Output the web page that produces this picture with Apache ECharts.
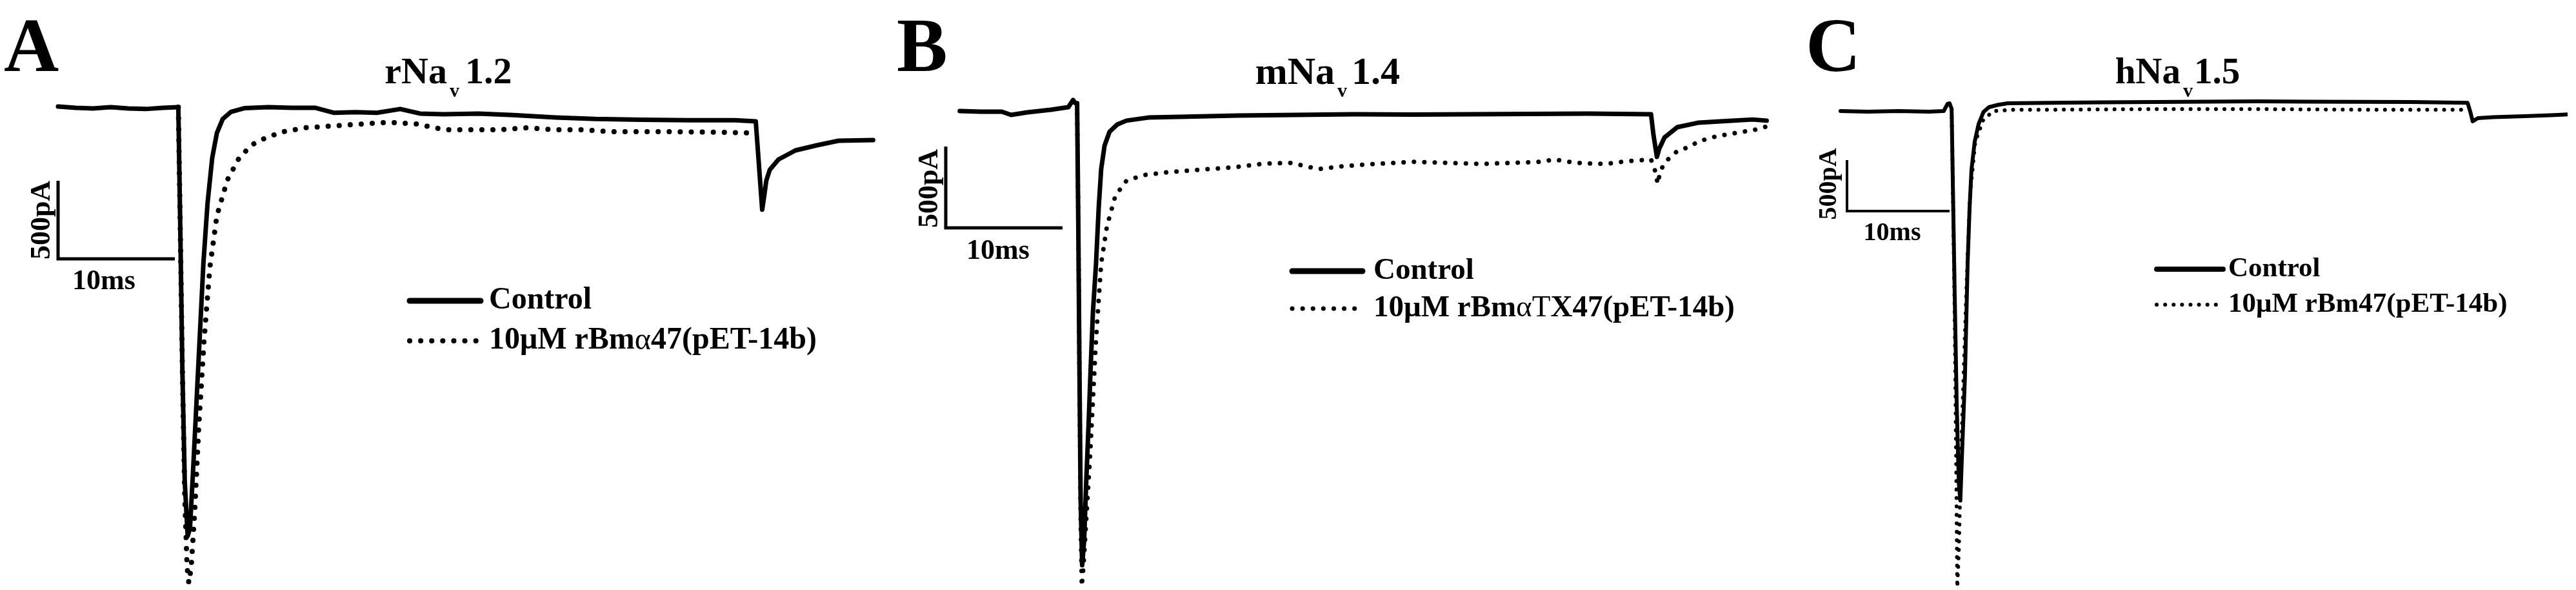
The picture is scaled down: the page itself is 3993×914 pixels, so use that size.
<!DOCTYPE html>
<html>
<head>
<meta charset="utf-8">
<script src="https://cdn.jsdelivr.net/npm/echarts@6/dist/echarts.min.js"></script>
<style>
html,body{margin:0;padding:0;background:#fff;}
#main{width:3993px;height:914px;}
</style>
</head>
<body>
<div id="main"></div>
<script>
// current traces, [time ms, current pA]

// A  rNav1.2
var ctrlA = [
  [0,0],[1.5,-8],[3,-12],[4.5,-4],[6,-12],[7.5,-16],[9,-8],[10.3,-4],
  [10.45,-700],[10.65,-1700],[10.85,-2400],[11.1,-2750],[11.3,-2700],[11.55,-2350],[11.85,-1900],[12.15,-1450],
  [12.45,-1000],[12.8,-620],[13.2,-330],[13.6,-170],[14.1,-80],[14.8,-35],
  [16,-10],[18,-4],[20,-8],[22,-8],[23.6,-40],[25.5,-36],[27.3,-40],[29.3,-16],[31,-45],[33,-50],[36,-45],
  [39,-55],[42.6,-70],[46,-80],[50,-85],[54,-88],[58,-88],[59.75,-95],
  [60.0,-350],[60.3,-660],[60.5,-560],[60.65,-475],[60.95,-405],[61.7,-339],[63.15,-281],[65,-248],[66.85,-219],[69.8,-215]
];
var toxA = [
  [10.3,-4],[10.45,-700],[10.65,-1700],[10.85,-2500],[11.05,-2950],[11.2,-3050],[11.4,-2950],[11.7,-2600],
  [12.05,-2050],[12.5,-1500],[13.0,-1030],[13.6,-700],[14.5,-470],[15.5,-330],[16.6,-245],[17.85,-198],
  [19.3,-161],[21.2,-136],[23.6,-124],[26,-112],[28.3,-101],[30.7,-112],[33.1,-149],[35.5,-149],[37.8,-149],
  [40.2,-136],[42.6,-149],[45,-149],[47.3,-161],[49.7,-161],[52.1,-161],[56.9,-165],[59.7,-170]
];
var barA = [[0,-475],[0,-975],[10,-975]];

// B  mNav1.4
var ctrlB = [
  [1.2,-8],[3,-12],[4.8,-12],[5.6,-32],[7,-16],[9,0],[10.5,16],[10.9,60],[11.1,40],
  [11.25,40],[11.35,-700],[11.45,-1600],[11.55,-2400],[11.68,-2800],[11.85,-2650],[12.05,-2250],[12.25,-1900],
  [12.38,-1640],[12.6,-1250],[12.87,-944],[13.1,-600],[13.31,-365],[13.6,-220],[14.03,-135],[14.7,-90],
  [15.47,-67],[17.35,-48],[20,-44],[25,-36],[30,-32],[35,-28],[40,-30],[45,-28],[50,-26],[55,-24],[60.4,-28],
  [60.6,-150],[60.9,-290],[61.1,-240],[61.55,-171],[62.65,-107],[64.5,-79],[66.35,-71],[69.1,-60],[70.3,-67]
];
var toxB = [
  [11.25,40],[11.35,-700],[11.45,-1600],[11.55,-2500],[11.65,-2930],[11.8,-2800],[12.05,-2500],[12.38,-2100],
  [12.87,-1409],[13.31,-944],[13.81,-714],[14.53,-528],[15.47,-437],[16.9,-402],[18.9,-385],[21.7,-369],
  [24.5,-355],[27.3,-331],[29.6,-327],[31.9,-365],[34,-347],[36.4,-335],[40,-320],[45.9,-333],[50.7,-321],
  [52.15,-306],[53.8,-325],[55.75,-333],[57.1,-329],[58.2,-317],[60.4,-306],
  [60.85,-397],[60.95,-456],[61.2,-380],[61.55,-325],[62.65,-254],[63.6,-230],[64.5,-194],[66,-163],
  [67.65,-143],[69.3,-123],[70.3,-103]
];
var barB = [[0,-226],[0,-726],[10,-726]];

// C  hNav1.5
var ctrlC = [
  [-0.63,0],[2,-6],[5,0],[8,-6],[9.43,0],[9.8,70],[10.0,76],[10.2,20],
  [10.3,-600],[10.5,-1800],[10.7,-2900],[10.9,-3650],[11.05,-3820],[11.2,-3400],[11.5,-2600],[11.76,-1494],
  [11.95,-950],[12.14,-570],[12.45,-300],[12.83,-127],[13.3,-10],[13.84,38],[14.7,60],[15.66,76],
  [20,80],[25,85],[30,88],[35,92],[40,95],[45,92],[50,90],[55,88],[60.5,80],
  [60.8,-20],[61.0,-101],[61.5,-70],[63,-60],[66,-50],[69,-40],[70.6,-32]
];
var toxC = [
  [10.2,20],[10.3,-600],[10.5,-2000],[10.65,-3500],[10.75,-4670],[10.9,-4300],[11.13,-3342],[11.4,-2500],
  [11.64,-1759],[12.0,-810],[12.5,-304],[13.3,-82],[14.3,0],[16.2,13],[20,13],[30,19],[40,19],[50,13],[60.3,13]
];
var barC = [[0,-481],[0,-981],[10,-981]];

var panelLetters = ['A', 'B', 'C'];
var channels = ['rNa', 'mNa', 'hNa'];
var versions = ['1.2', '1.4', '1.5'];
var ctrlName = 'Control';
var toxNames = ['10μM rBmα47(pET-14b)', '10μM rBmαTX47(pET-14b)', '10μM rBm47(pET-14b)'];

var serif = '"Liberation Serif", "Times New Roman", serif';
function f(size, bold) { return (bold ? 'bold ' : '') + size + 'px ' + serif; }

function txt(x, y, text, size, bold, align, extra) {
  var el = {
    type: 'text', x: x, y: y, silent: true,
    style: {
      text: text, font: f(size, bold), fill: '#000',
      textAlign: align || 'left', align: align || 'left',
      textVerticalAlign: 'middle', verticalAlign: 'middle'
    }
  };
  if (extra) for (var k in extra) el[k] = extra[k];
  return el;
}

// legend text with the greek part in normal weight
function legendRich(x, y, name, size) {
  var m = name.match(/^(.*rBm)(αT|α)?(.*)$/);
  var s = '{b|' + m[1] + '}' + (m[2] ? '{n|' + m[2] + '}' : '') + '{b|' + m[3] + '}';
  return {
    type: 'text', x: x, y: y, silent: true,
    style: {
      text: s, fill: '#000', textAlign: 'left', align: 'left',
      textVerticalAlign: 'middle', verticalAlign: 'middle',
      rich: { b: { font: f(size, true) }, n: { font: f(size, false) } }
    }
  };
}

function legendLines(x1, x2, y1, y2, w, dotW, gap) {
  return [
    { type: 'line', silent: true, shape: { x1: x1, y1: y1, x2: x2, y2: y1 },
      style: { stroke: '#000', lineWidth: w, lineCap: 'round' } },
    { type: 'line', silent: true, shape: { x1: x1, y1: y2, x2: x2, y2: y2 },
      style: { stroke: '#000', lineWidth: dotW, lineCap: 'round', lineDash: [0.1, gap] } }
  ];
}

var graphics = [];
// panel A
graphics.push(txt(6, 80, panelLetters[0], 118, true));
graphics.push(txt(693, 114, channels[0], 58, true, 'right'));
graphics.push(txt(697, 142, 'v', 30, true));
graphics.push(txt(721, 114, versions[0], 58, true));
graphics.push(txt(66, 341, '500pA', 44, true, 'center', { rotation: Math.PI / 2 }));
graphics.push(txt(161, 437, '10ms', 44, true, 'center'));
graphics = graphics.concat(legendLines(635, 745, 466, 528, 9, 8, 17));
graphics.push(txt(758, 466, ctrlName, 48, true));
graphics.push(legendRich(758, 528, toxNames[0], 48));
// panel B
graphics.push(txt(1390, 80, panelLetters[1], 118, true));
graphics.push(txt(2069, 114, channels[1], 60, true, 'right'));
graphics.push(txt(2073, 142, 'v', 30, true));
graphics.push(txt(2095, 114, versions[1], 60, true));
graphics.push(txt(1442, 292, '500pA', 44, true, 'center', { rotation: Math.PI / 2 }));
graphics.push(txt(1547, 390, '10ms', 44, true, 'center'));
graphics = graphics.concat(legendLines(2003, 2112, 420, 478, 9, 7, 16));
graphics.push(txt(2129, 420, ctrlName, 47, true));
graphics.push(legendRich(2129, 478, toxNames[1], 47));
// panel C
graphics.push(txt(2799, 80, panelLetters[2], 118, true));
graphics.push(txt(3380, 114, channels[2], 57, true, 'right'));
graphics.push(txt(3384, 142, 'v', 30, true));
graphics.push(txt(3401, 114, versions[2], 57, true));
graphics.push(txt(2836, 285, '500pA', 40, true, 'center', { rotation: Math.PI / 2 }));
graphics.push(txt(2933, 362, '10ms', 40, true, 'center'));
graphics = graphics.concat(legendLines(3343, 3446, 417, 472, 8, 6, 13));
graphics.push(txt(3454, 417, ctrlName, 43, true));
graphics.push(legendRich(3454, 472, toxNames[2], 43));

// grid placement so that 10 ms / 500 pA match the scale bars, kept inside the canvas
var grids = [
  { left: 53.8, top: 19.8, width: 1339.4, height: 871.2, outerBoundsMode: 'none' },
  { left: 1429.8, top: 18.8, width: 1339.4, height: 882, outerBoundsMode: 'none' },
  { left: 2831.2, top: 77.2, width: 1144.8, height: 821.6, outerBoundsMode: 'none' }
];
var xMax = [72, 72, 70];
var yMin = [-3000, -2900, -4600];

var xAxes = [], yAxes = [];
for (var i = 0; i < 3; i++) {
  xAxes.push({ type: 'value', gridIndex: i, min: -2, max: xMax[i], show: false });
  yAxes.push({ type: 'value', gridIndex: i, min: yMin[i], max: 600, show: false });
}

function trace(name, data, idx, width, dots, gap, z) {
  return {
    type: 'line', name: name, data: data, xAxisIndex: idx, yAxisIndex: idx,
    symbol: 'none', showSymbol: false, clip: false, silent: true, z: z,
    lineStyle: dots
      ? { color: '#000', width: width, type: [0.1, gap], cap: 'round', join: 'round' }
      : { color: '#000', width: width, cap: 'round', join: 'round' }
  };
}

function scaleBar(data, idx, width) {
  return {
    type: 'line', name: 'scale', data: data, xAxisIndex: idx, yAxisIndex: idx,
    symbol: 'none', showSymbol: false, clip: false, silent: true, z: 3,
    lineStyle: { color: '#000', width: width, cap: 'butt', join: 'miter' }
  };
}

var series = [
  trace(toxNames[0], toxA, 0, 8, true, 17, 2),
  trace(ctrlName, ctrlA, 0, 7, false, 0, 3),
  scaleBar(barA, 0, 5),
  trace(toxNames[1], toxB, 1, 7, true, 16, 2),
  trace(ctrlName, ctrlB, 1, 7, false, 0, 3),
  scaleBar(barB, 1, 5),
  trace(toxNames[2], toxC, 2, 6, true, 13, 2),
  trace(ctrlName, ctrlC, 2, 6, false, 0, 3),
  scaleBar(barC, 2, 4)
];

var chart = echarts.init(document.getElementById('main'));
chart.setOption({
  backgroundColor: '#fff',
  animation: false,
  grid: grids,
  xAxis: xAxes,
  yAxis: yAxes,
  series: series,
  graphic: graphics
});
</script>
</body>
</html>
